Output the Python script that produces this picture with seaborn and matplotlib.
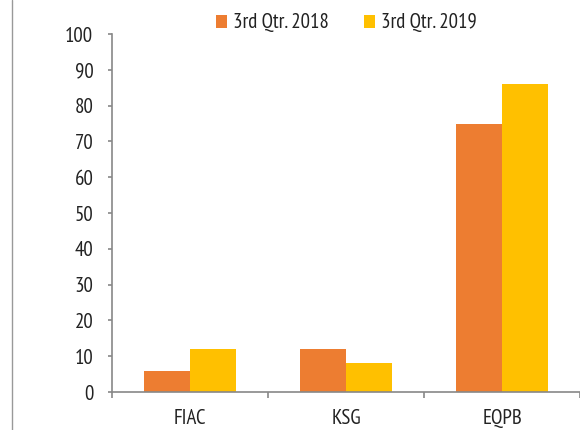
import pandas as pd
import numpy as np
import matplotlib.pyplot as plt
import seaborn as sns
from matplotlib.lines import Line2D

# Chart data
companies = ['FIAC', 'KSG', 'EQPB']
q3_2018 = [6, 12, 75]
q3_2019 = [12, 8, 86]
series_names = ['3rd Qtr. 2018', '3rd Qtr. 2019']
colors = ['#ED7D31', '#FFC000']

df = pd.DataFrame({
    'company': companies * 2,
    'value': q3_2018 + q3_2019,
    'period': [series_names[0]] * 3 + [series_names[1]] * 3,
})

sns.set_style('white')
plt.rcParams['font.family'] = ['PT Sans Narrow', 'DejaVu Sans']

fig = plt.figure(figsize=(5.8, 4.3), dpi=100)
ax = fig.add_axes([112 / 580, 38 / 430, 468 / 580, 358 / 430])

sns.barplot(data=df, x='company', y='value', hue='period', palette=colors,
            width=0.59, saturation=1, ax=ax, edgecolor='none')

ax.set_xlim(-0.5, 2.5)
ax.set_ylim(0, 100)
ax.set_yticks(np.arange(0, 101, 10))
ax.set_xlabel('')
ax.set_ylabel('')

# tick marks between categories, none at the labels
ax.set_xticks([-0.5, 0.5, 1.5, 2.5], minor=True)
ax.tick_params(axis='x', which='major', bottom=True, length=0, pad=12,
               labelsize=15, labelcolor='#222222')
ax.tick_params(axis='x', which='minor', bottom=True, length=4, width=1.2,
               color='#888888', direction='out')
ax.tick_params(axis='y', left=True, length=3, width=1.2, color='#888888', direction='out',
               labelsize=15, labelcolor='#222222', pad=10.5)

for side in ['top', 'right']:
    ax.spines[side].set_visible(False)
for side in ['left', 'bottom']:
    ax.spines[side].set_color('#888888')
    ax.spines[side].set_linewidth(1.2)

handles, labels = ax.get_legend_handles_labels()
ax.get_legend().remove()
fig.legend(handles, labels, loc='center', bbox_to_anchor=(346.5 / 580, 1 - 23 / 430), ncol=2,
           frameon=False, fontsize=15, handlelength=0.5, handleheight=0.6,
           handletextpad=0.3, columnspacing=1.7, labelcolor='#222222',
           borderpad=0, borderaxespad=0)

# left border of the chart frame
fig.add_artist(Line2D([12 / 580, 12 / 580], [0, 1], transform=fig.transFigure,
                      color='#999999', linewidth=1))

fig.savefig('out.png', dpi=100)
